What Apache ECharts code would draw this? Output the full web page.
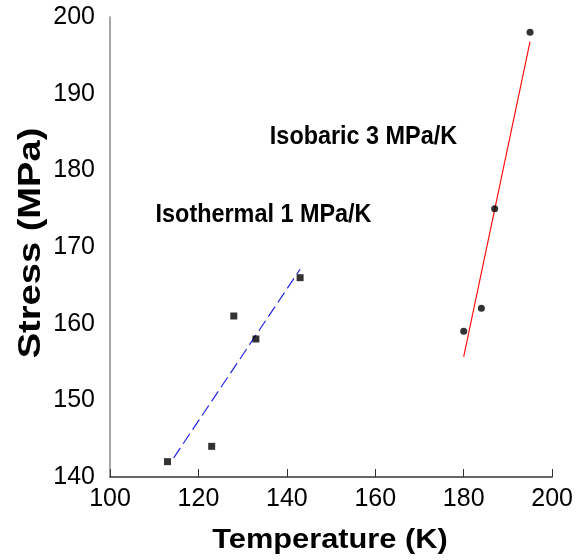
<!DOCTYPE html>
<html>
<head>
<meta charset="utf-8">
<script src="https://cdn.jsdelivr.net/npm/echarts@6/dist/echarts.min.js"></script>
<style>
  html, body { margin: 0; padding: 0; background: #fff; }
  #chart { width: 576px; height: 560px; }
</style>
</head>
<body>
<div id="chart"></div>
<script>
// Isothermal measurements (square markers)
const isothermalTemp = [113, 123, 128, 133, 143];
const isothermalStress = [142, 144, 161, 158, 166];
// Isobaric measurements (circle markers)
const isobaricTemp = [180, 184, 187, 195];
const isobaricStress = [159, 162, 175, 198];
// Linear fit end points
const isothermalFitTemp = [114.4, 143];
const isothermalFitStress = [142.5, 167.1];
const isobaricFitTemp = [180, 195];
const isobaricFitStress = [155.7, 196.8];
// Axis ranges [min, max, step]
const xRange = [100, 200, 20];
const yRange = [140, 200, 10];

const pairs = (xs, ys) => xs.map((x, i) => [x, ys[i]]);

const font = '"Liberation Sans", Arial, sans-serif';
const boldText = (text, size) => ({
  text, fontFamily: font, fontSize: size, fontWeight: 'bold', fill: '#000',
  align: 'center', verticalAlign: 'middle'
});

const chart = echarts.init(document.getElementById('chart'));
chart.setOption({
  animation: false,
  backgroundColor: '#fff',
  grid: { left: 110, right: 23, top: 17, bottom: 83 },
  xAxis: {
    type: 'value', min: xRange[0], max: xRange[1], interval: xRange[2],
    axisLine: { show: true, lineStyle: { color: '#333', width: 1.5 } },
    axisTick: { show: true, inside: true, length: 8, lineStyle: { color: '#333' } },
    axisLabel: { fontFamily: font, fontSize: 25, color: '#000', margin: 10 },
    splitLine: { show: false }
  },
  yAxis: {
    type: 'value', min: yRange[0], max: yRange[1], interval: yRange[2],
    axisLine: { show: true, lineStyle: { color: '#888', width: 1.5 } },
    axisTick: { show: false },
    axisLabel: { fontFamily: font, fontSize: 25, color: '#000', margin: 15 },
    splitLine: { show: false }
  },
  graphic: [
    { type: 'text', x: 330, y: 541, scaleX: 1.14, style: boldText('Temperature (K)', 27) },
    { type: 'text', x: 31, y: 243, rotation: Math.PI / 2, scaleX: 1.19, style: boldText('Stress (MPa)', 32) },
    { type: 'text', x: 263.5, y: 215, scaleX: 0.9, style: boldText('Isothermal 1 MPa/K', 26) },
    { type: 'text', x: 363.5, y: 137, scaleX: 0.9, style: boldText('Isobaric 3 MPa/K', 26) }
  ],
  series: [
    { type: 'line', data: pairs(isothermalFitTemp, isothermalFitStress), symbol: 'none',
      lineStyle: { color: '#2222ee', width: 1.2, type: [12, 5] }, z: 2 },
    { type: 'line', data: pairs(isobaricFitTemp, isobaricFitStress), symbol: 'none',
      lineStyle: { color: '#ff0000', width: 1.1 }, z: 2 },
    { type: 'scatter', data: pairs(isothermalTemp, isothermalStress), symbol: 'rect', symbolSize: 7,
      itemStyle: { color: '#000' }, z: 3 },
    { type: 'scatter', data: pairs(isobaricTemp, isobaricStress), symbol: 'circle', symbolSize: 7,
      itemStyle: { color: '#000' }, z: 3 }
  ]
});
</script>
</body>
</html>
